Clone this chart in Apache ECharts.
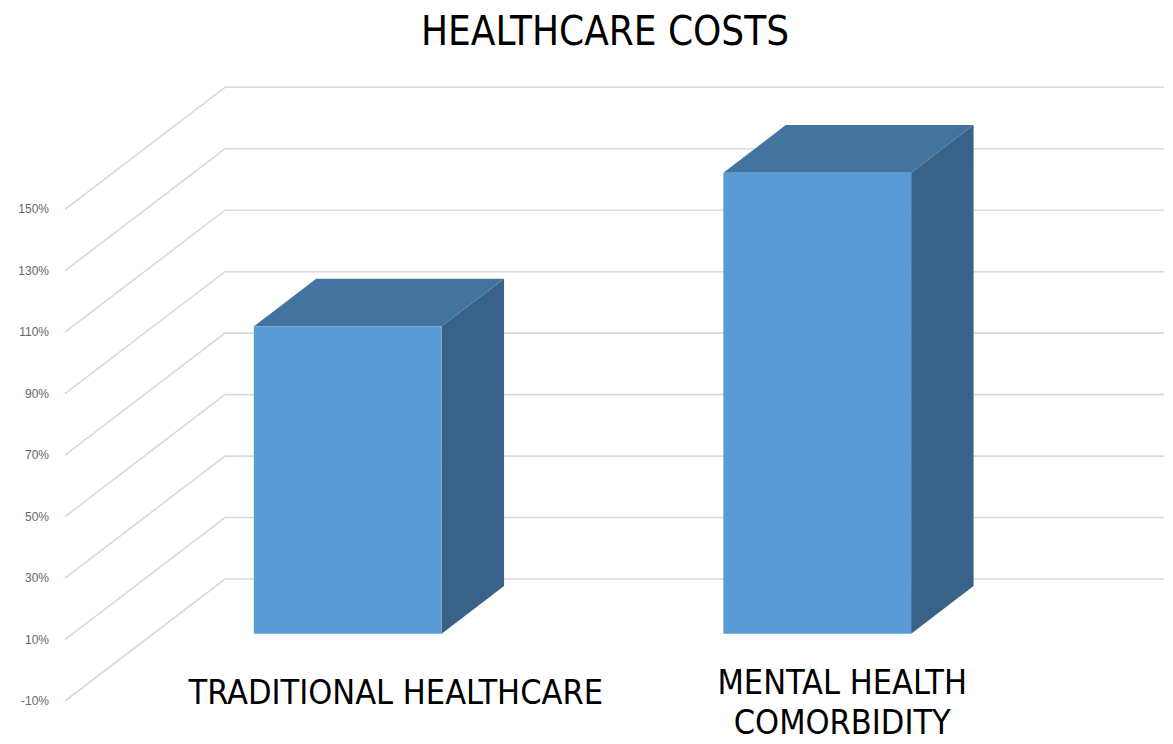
<!DOCTYPE html>
<html>
<head>
<meta charset="utf-8">
<script src="https://cdn.jsdelivr.net/npm/echarts@6/dist/echarts.min.js"></script>
<style>html,body{margin:0;padding:0;background:#fff;}#chart{width:1173px;height:744px;}</style>
</head>
<body>
<div id="chart"></div>
<script>
// ---- data ----
var chartTitle = 'HEALTHCARE COSTS';
var categories = ['TRADITIONAL HEALTHCARE', 'MENTAL HEALTH\nCOMORBIDITY'];
var costValues = [100, 150];               // percent
var gridValues = [-10, 10, 30, 50, 70, 90, 110, 130, 150]; // tick labels (percent)

// ---- style constants ----
var DEPTH_DX = 160, DEPTH_DY = -122;   // full depth offset of the 3D box
var BAR_FRONT = 0.30, BAR_DEPTH = 0.39, BAR_WIDTH = 0.4;
var COL_FRONT = '#5B9BD5', COL_TOP = '#43739F', COL_SIDE = '#386287';
var NARROW = "'Liberation Sans Narrow', 'DejaVu Sans Condensed', 'Arial Narrow', sans-serif";

var chart = echarts.init(document.getElementById('chart'), null, {renderer: 'svg'});

var option = {
  backgroundColor: '#ffffff',
  animation: false,
  title: {
    text: chartTitle,
    left: 421,
    top: 8,
    padding: 0,
    textStyle: {fontFamily: NARROW, fontSize: 40, fontWeight: 'normal', color: '#000', lineHeight: 46}
  },
  grid: {left: 65, right: 169, top: 209.3, bottom: 43, containLabel: false, outerBoundsMode: 'none'},
  xAxis: {
    type: 'category',
    data: categories,
    axisLine: {show: false},
    axisTick: {show: false},
    splitLine: {show: false},
    axisLabel: {
      interval: 0,
      margin: 1,
      verticalAlign: 'middle',
      formatter: function (value, index) {
        var key = index === 0 ? 't' : 'm';
        return value.split('\n').map(function (s) { return '{' + key + '|' + s + '}'; }).join('\n');
      },
      rich: {
        t: {fontFamily: NARROW, fontSize: 34, color: '#000', lineHeight: 42, padding: [0, 0, 21, 192]},
        m: {fontFamily: NARROW, fontSize: 34, color: '#000', lineHeight: 40, padding: [0, 0, 0, 146]}
      }
    }
  },
  yAxis: {
    type: 'value',
    min: -10,
    max: 150,
    interval: 10,
    axisLine: {show: false},
    axisTick: {show: false},
    splitLine: {show: false},
    axisLabel: {
      margin: 16,
      color: '#666666',
      fontFamily: "'Liberation Sans', Arial, sans-serif",
      fontSize: 12,
      formatter: function (v) { return gridValues.indexOf(v) >= 0 ? v + '%' : ''; }
    }
  },
  series: [
    {
      type: 'custom',
      name: 'grid',
      z: 1,
      silent: true,
      data: gridValues.map(function (v) { return [0, v]; }),
      encode: {x: 0, y: 1},
      renderItem: function (params, api) {
        var y = api.coord([0, api.value(1)])[1];
        var cs = params.coordSys;
        var x0 = cs.x, x1 = cs.x + cs.width;
        return {
          type: 'polyline',
          shape: {points: [[x0, y], [x0 + DEPTH_DX, y + DEPTH_DY], [x1 + DEPTH_DX, y + DEPTH_DY]]},
          style: {stroke: '#D9D9D9', lineWidth: 1.6, fill: null}
        };
      }
    },
    {
      type: 'custom',
      name: 'cost',
      z: 2,
      data: costValues.map(function (v, i) { return [i, v]; }),
      encode: {x: 0, y: 1},
      renderItem: function (params, api) {
        var i = api.value(0), v = api.value(1);
        var base = api.coord([i, 0]);
        var top = api.coord([i, v]);
        var band = api.size([1, 0])[0];
        var w = band * BAR_WIDTH;
        var cx = base[0] + BAR_FRONT * DEPTH_DX;
        var oy = BAR_FRONT * DEPTH_DY;
        var L = cx - w / 2, R = cx + w / 2;
        var T = top[1] + oy, B = base[1] + oy;
        var bdx = BAR_DEPTH * DEPTH_DX, bdy = BAR_DEPTH * DEPTH_DY;
        return {
          type: 'group',
          children: [
            {type: 'polygon', shape: {points: [[R, T], [R + bdx, T + bdy], [R + bdx, B + bdy], [R, B]]},
             style: {fill: COL_SIDE}},
            {type: 'polygon', shape: {points: [[L, T], [R, T], [R + bdx, T + bdy], [L + bdx, T + bdy]]},
             style: {fill: COL_TOP}},
            {type: 'rect', shape: {x: L, y: T, width: w, height: B - T},
             style: {fill: COL_FRONT}}
          ]
        };
      }
    }
  ]
};
chart.setOption(option);
</script>
</body>
</html>
